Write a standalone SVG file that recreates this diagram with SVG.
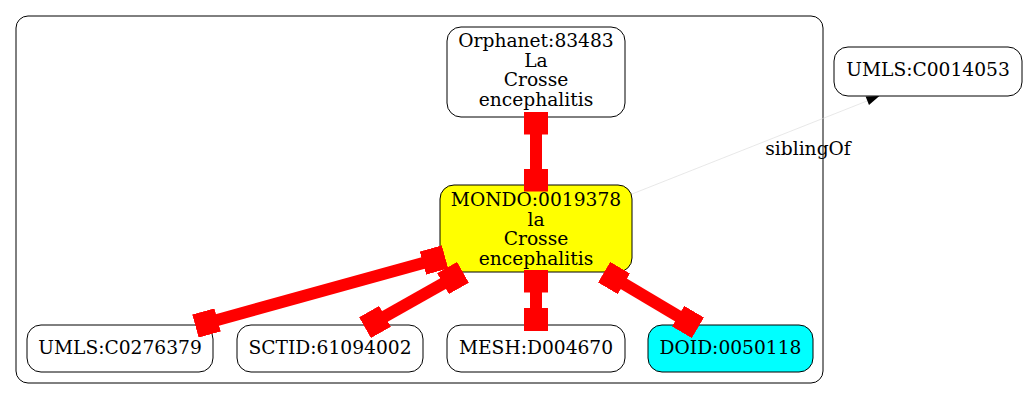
<svg xmlns="http://www.w3.org/2000/svg" width="1027" height="400" viewBox="0 0 1027 400">
<style>
text{font-family:"DejaVu Serif","Liberation Serif",serif;font-size:18.67px;fill:#000;text-anchor:middle}
.n{fill:#fff;stroke:#000;stroke-width:1}
.e{stroke:#ff0000;stroke-width:12;fill:none;marker-start:url(#box);marker-end:url(#box)}
</style>
<defs>
<marker id="box" markerUnits="userSpaceOnUse" orient="auto" markerWidth="23" markerHeight="24" refX="11.5" refY="12">
<rect x="0" y="0" width="23" height="24" fill="#ff0000"/>
</marker>
</defs>
<rect x="16" y="16" width="807" height="367" rx="12" ry="12" fill="none" stroke="#000" stroke-width="1"/>
<g id="node_orphanet">
<rect class="n" x="447" y="27" width="178" height="90" rx="14" ry="14"/>
<text x="536" y="47">Orphanet:83483</text>
<text x="536" y="66.5">La</text>
<text x="536" y="86">Crosse</text>
<text x="536" y="105.5">encephalitis</text>
</g>
<g id="node_mondo">
<rect class="n" x="440" y="185" width="192" height="87" rx="14" ry="14" style="fill:#ffff00"/>
<text x="536" y="206">MONDO:0019378</text>
<text x="536" y="225.5">la</text>
<text x="536" y="245">Crosse</text>
<text x="536" y="264.5">encephalitis</text>
</g>
<g id="node_umls0276379">
<rect class="n" x="27" y="325" width="186" height="47" rx="14" ry="14"/>
<text x="120" y="354">UMLS:C0276379</text>
</g>
<g id="node_sctid">
<rect class="n" x="237" y="325" width="186" height="47" rx="14" ry="14"/>
<text x="330" y="354">SCTID:61094002</text>
</g>
<g id="node_mesh">
<rect class="n" x="447" y="325" width="178" height="47" rx="14" ry="14"/>
<text x="536" y="354">MESH:D004670</text>
</g>
<g id="node_doid">
<rect class="n" x="648" y="325" width="165" height="47" rx="14" ry="14" style="fill:#00ffff"/>
<text x="730.5" y="354">DOID:0050118</text>
</g>
<g id="node_umls0014053">
<rect class="n" x="834" y="47" width="188" height="49" rx="14" ry="14"/>
<text x="928" y="76">UMLS:C0014053</text>
</g>
<g id="connectors">
<path class="e" d="M536,123 L536,180"/>
<path class="e" d="M434,260 L206.5,323"/>
<path class="e" d="M453,278 L375,322"/>
<path class="e" d="M536,281 L536,319.5"/>
<path class="e" d="M614,278 L688,322"/>
<path d="M632,194 L867,101" stroke="#d9d9d9" stroke-width="0.6" fill="none"/>
<polygon points="879.4,95.9 865.6,96.4 869,105" fill="#000"/>
<text x="808" y="155">siblingOf</text>
</g>
</svg>
